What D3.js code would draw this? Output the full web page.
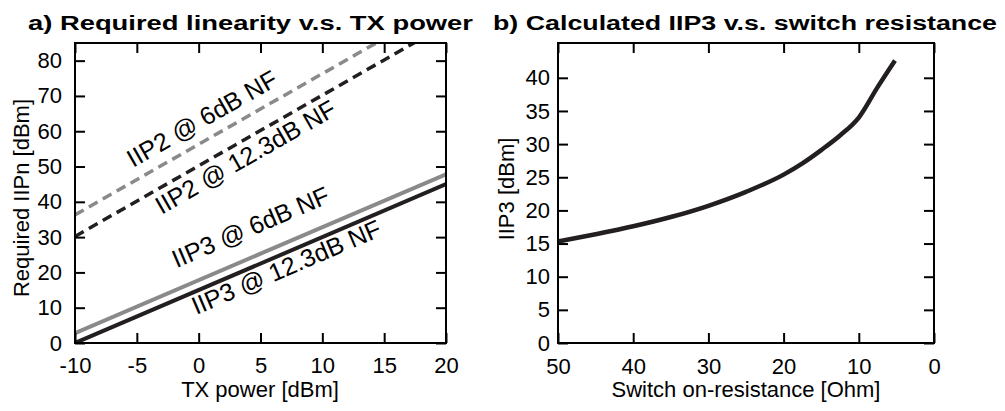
<!DOCTYPE html>
<html>
<head>
<meta charset="utf-8">
<script src="https://cdn.jsdelivr.net/npm/d3@7"></script>
<style>
  body { margin: 0; background: #fff; }
  text { font-family: Arial, "Liberation Sans", sans-serif; }
</style>
</head>
<body>
<div id="chart"></div>
<script>

// ---- data ----
// a) required linearity, end points of each straight line
var txPower = [-10, 20];
var iip2At6dB = [36.3, 96.3];
var iip2At12dB = [30.2, 90.2];
var iip3At6dB = [2.8, 47.8];
var iip3At12dB = [0, 45];

// b) calculated IIP3 vs switch on-resistance
var switchRes = [50, 45, 40, 35, 30, 25, 20, 17.5, 15, 12.5, 10, 7.5, 5.2];
var iip3Calc = [15.3, 16.4, 17.6, 19.0, 20.7, 22.8, 25.4, 27.1, 29.1, 31.3, 34.0, 38.6, 42.6];

// tick labels
var xTicksA = [-10, -5, 0, 5, 10, 15, 20];
var yTicksA = [0, 10, 20, 30, 40, 50, 60, 70, 80];
var xTicksB = [50, 40, 30, 20, 10, 0];
var yTicksB = [0, 5, 10, 15, 20, 25, 30, 35, 40];

// line labels (position in data units of panel a)
var labelText = ["IIP2 @ 6dB NF", "IIP2 @ 12.3dB NF", "IIP3 @ 6dB NF", "IIP3 @ 12.3dB NF"];
var labelX = [-5.3, -3.0, -1.8, -0.2];
var labelY = [49.6, 36.3, 21.2, 7.9];

var grey = "#8a8a8a", dark = "#231f20";

var svg = d3.select("#chart")
    .append("svg")
    .attr("width", 1005)
    .attr("height", 411);

// plain hyphen for negatives, like the original
var plainFmt = function (d) { return String(d); };

// small helper: inward ticks on all 4 sides + frame
function drawFrame(x, y, xTicks, yTicks, xPad, yPad) {
    var x0 = x.range()[0], x1 = x.range()[1];
    var y0 = y.range()[0], y1 = y.range()[1];

    var gb = svg.append("g").attr("transform", "translate(0," + y0 + ")")
        .call(d3.axisBottom(x).tickValues(xTicks).tickFormat(plainFmt).tickSizeInner(-10).tickSizeOuter(0).tickPadding(xPad));
    var gl = svg.append("g").attr("transform", "translate(" + x0 + ",0)")
        .call(d3.axisLeft(y).tickValues(yTicks).tickFormat(plainFmt).tickSizeInner(-10).tickSizeOuter(0).tickPadding(yPad));
    var gt = svg.append("g").attr("transform", "translate(0," + y1 + ")")
        .call(d3.axisTop(x).tickValues(xTicks).tickSizeInner(-10).tickSizeOuter(0).tickFormat(""));
    var gr = svg.append("g").attr("transform", "translate(" + x1 + ",0)")
        .call(d3.axisRight(y).tickValues(yTicks).tickSizeInner(-10).tickSizeOuter(0).tickFormat(""));

    [gb, gl, gt, gr].forEach(function (g) {
        g.select(".domain").remove();
        g.attr("font-size", 22).attr("font-family", "Arial, 'Liberation Sans', sans-serif");
        g.selectAll(".tick line").attr("stroke", "#000").attr("stroke-width", 2);
        g.selectAll(".tick text").attr("fill", "#000");
    });

    svg.append("rect")
        .attr("x", x0).attr("y", y1)
        .attr("width", x1 - x0).attr("height", y0 - y1)
        .attr("fill", "none")
        .attr("stroke", "#000")
        .attr("stroke-width", 2);
}

//////////
// PANEL A //
//////////
var xA = d3.scaleLinear().domain([-10, 20]).range([75, 446]);
var yA = d3.scaleLinear().domain([0, 85]).range([343, 43]);

svg.append("defs").append("clipPath")
    .attr("id", "clipA")
    .append("rect")
    .attr("x", 75).attr("y", 43)
    .attr("width", 446 - 75).attr("height", 343 - 43);

var seriesA = [
    { vals: iip2At6dB, color: grey, dash: "10,6", w: 3.5 },
    { vals: iip2At12dB, color: dark, dash: "10,6", w: 3.5 },
    { vals: iip3At6dB, color: grey, dash: null, w: 4 },
    { vals: iip3At12dB, color: dark, dash: null, w: 4 }
];

var lineA = d3.line()
    .x(function (d) { return xA(d[0]); })
    .y(function (d) { return yA(d[1]); });

var plotA = svg.append("g").attr("clip-path", "url(#clipA)");
seriesA.forEach(function (s) {
    plotA.append("path")
        .datum(txPower.map(function (t, i) { return [t, s.vals[i]]; }))
        .attr("d", lineA)
        .attr("fill", "none")
        .attr("stroke", s.color)
        .attr("stroke-width", s.w)
        .attr("stroke-dasharray", s.dash);
});

// labels along the lines
seriesA.forEach(function (s, i) {
    var dx = xA(txPower[1]) - xA(txPower[0]);
    var dy = yA(s.vals[1]) - yA(s.vals[0]);
    var ang = Math.atan2(dy, dx) * 180 / Math.PI;
    var px = xA(labelX[i]), py = yA(labelY[i]);
    svg.append("text")
        .attr("transform", "translate(" + px + "," + py + ") rotate(" + ang + ")")
        .attr("font-size", 25)
        .text(labelText[i]);
});

drawFrame(xA, yA, xTicksA, yTicksA, 14, 13);

svg.append("text")
    .attr("x", 260).attr("y", 397)
    .attr("text-anchor", "middle")
    .attr("font-size", 22)
    .text("TX power [dBm]");

svg.append("text")
    .attr("transform", "translate(29,198) rotate(-90)")
    .attr("text-anchor", "middle")
    .attr("font-size", 22)
    .text("Required IIPn [dBm]");

svg.append("text")
    .attr("x", 28).attr("y", 30)
    .attr("font-size", 20)
    .attr("font-weight", "bold")
    .attr("textLength", 445)
    .attr("lengthAdjust", "spacingAndGlyphs")
    .text("a) Required linearity v.s. TX power");

//////////
// PANEL B //
//////////
var xB = d3.scaleLinear().domain([50, 0]).range([558, 934]);
var yB = d3.scaleLinear().domain([0, 45.25]).range([343, 43]);

var lineB = d3.line()
    .x(function (d) { return xB(d[0]); })
    .y(function (d) { return yB(d[1]); })
    .curve(d3.curveMonotoneX);

svg.append("path")
    .datum(switchRes.map(function (r, i) { return [r, iip3Calc[i]]; }))
    .attr("d", lineB)
    .attr("fill", "none")
    .attr("stroke", dark)
    .attr("stroke-width", 4.5);

drawFrame(xB, yB, xTicksB, yTicksB, 15, 8);

svg.append("text")
    .attr("x", 746).attr("y", 397)
    .attr("text-anchor", "middle")
    .attr("font-size", 22)
    .text("Switch on-resistance [Ohm]");

svg.append("text")
    .attr("transform", "translate(514,189) rotate(-90)")
    .attr("text-anchor", "middle")
    .attr("font-size", 22)
    .text("IIP3 [dBm]");

svg.append("text")
    .attr("x", 493).attr("y", 30)
    .attr("font-size", 20)
    .attr("font-weight", "bold")
    .attr("textLength", 504)
    .attr("lengthAdjust", "spacingAndGlyphs")
    .text("b) Calculated IIP3 v.s. switch resistance");

</script>
</body>
</html>
